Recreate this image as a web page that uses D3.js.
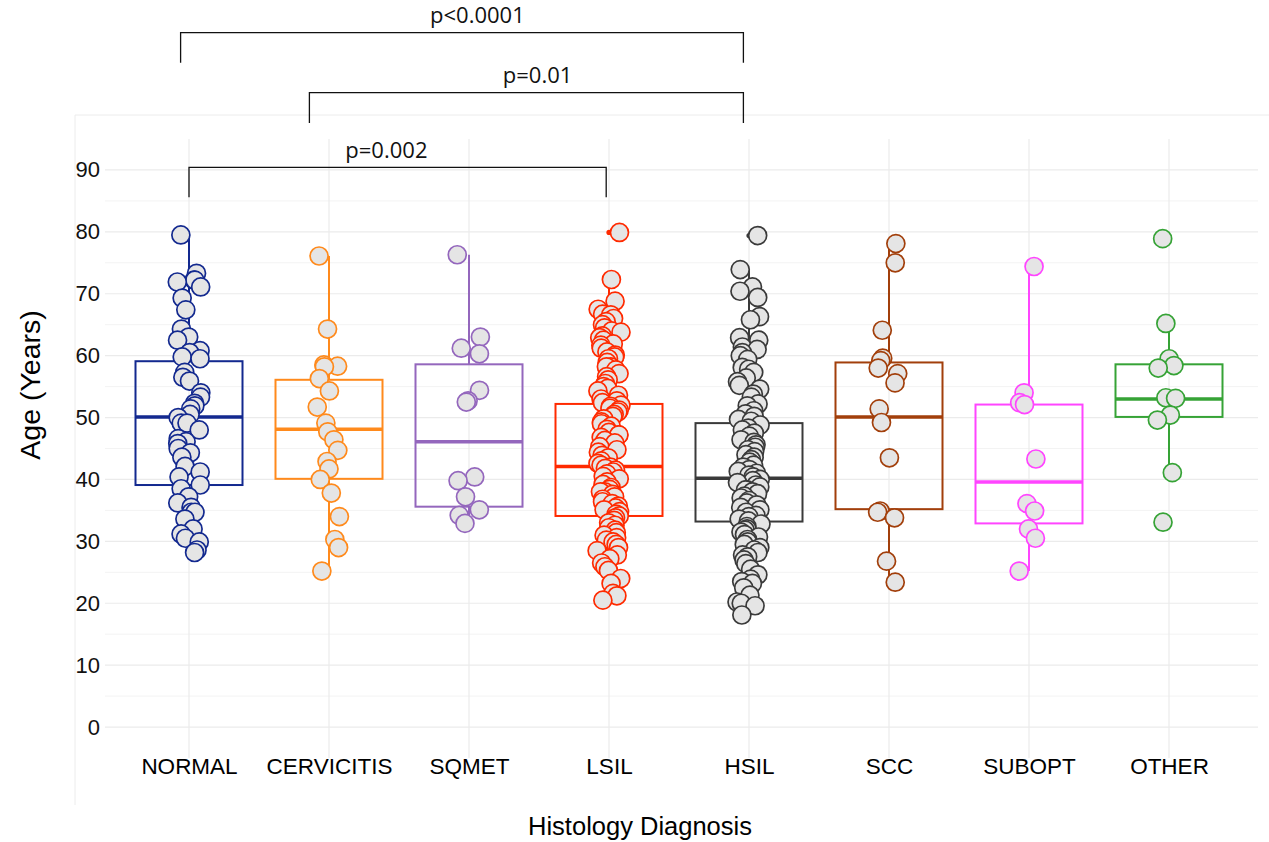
<!DOCTYPE html>
<html>
<head>
<meta charset="utf-8">
<script src="https://cdn.jsdelivr.net/npm/d3@7"></script>
<style>
  body { margin: 0; background: #fff; }
  text { font-family: "Liberation Sans", Arial, sans-serif; }
</style>
</head>
<body>
<div id="plot"></div>
<script>
// Categories and styles
const categories = ["NORMAL", "CERVICITIS", "SQMET", "LSIL", "HSIL", "SCC", "SUBOPT", "OTHER"];
const colors = ["#13298f", "#ff8a1c", "#9467bd", "#ff2a00", "#3a3a3a", "#a23f0b", "#ff45ff", "#36a336"];

// Ages, one array per diagnosis
const normalAges = [79.5, 73.3, 72.2, 72.2, 71.9, 71.1, 69.3, 67.4, 64.3, 63.0, 62.5, 60.8, 60.5, 59.8, 59.5,
  57.3, 56.5, 55.9, 54.0, 53.3, 52.3, 51.9, 51.4, 50.5, 50.0, 49.1, 49.1, 48.0, 46.6, 46.1, 45.8, 45.0, 44.3,
  43.6, 42.1, 41.2, 40.4, 39.1, 38.5, 37.2, 36.2, 35.5, 34.7, 34.7, 33.6, 32.0, 31.2, 30.5, 29.9, 28.6, 28.2];
const cervicitisAges = [76.1, 64.3, 58.5, 58.3, 58.2, 56.3, 54.3, 51.7, 49.1, 47.7, 46.4, 44.7, 42.9, 41.7,
  40.0, 37.8, 34.0, 30.3, 29.0, 25.2];
const sqmetAges = [76.3, 63.0, 61.2, 60.3, 54.4, 52.7, 52.5, 40.4, 39.8, 37.2, 35.1, 34.2, 32.9];
const lsilAges = [79.9, 72.3, 68.8, 67.5, 66.7, 66.6, 66.0, 65.5, 65.0, 64.5, 64.0, 63.8, 63.2, 62.9, 62.5,
  61.9, 61.7, 61.2, 60.6, 60.1, 59.8, 59.5, 58.9, 58.2, 58.2, 57.7, 57.1, 56.6, 56.1, 55.5, 55.0, 54.7, 54.3,
  53.6, 53.0, 52.7, 52.4, 52.0, 51.8, 51.5, 51.2, 50.9, 50.5, 50.2, 49.8, 49.3, 49.0, 48.6, 48.1, 47.6, 47.2,
  47.2, 46.8, 46.3, 45.9, 45.3, 44.8, 44.4, 43.9, 43.5, 43.0, 42.6, 42.3, 42.0, 41.8, 41.5, 41.2, 40.9, 40.5,
  40.1, 39.6, 39.2, 38.7, 38.4, 38.0, 38.0, 37.6, 37.2, 36.8, 36.4, 36.1, 35.7, 35.4, 35.1, 34.8, 34.4, 34.1,
  33.8, 33.4, 33.0, 32.6, 32.2, 31.8, 31.4, 31.0, 30.6, 30.2, 29.9, 29.5, 29.0, 28.5, 27.8, 27.2, 26.5, 25.9,
  25.3, 24.0, 23.2, 21.6, 21.2, 20.5];
const hsilAges = [79.4, 73.9, 71.1, 70.4, 69.4, 66.3, 65.8, 62.9, 62.5, 61.4, 61.0, 60.5, 60.0, 59.4, 58.1,
  57.8, 57.3, 56.4, 55.8, 55.2, 54.6, 53.8, 53.3, 52.2, 51.9, 51.1, 50.6, 50.2, 49.7, 49.4, 48.8, 48.3, 48.0,
  47.5, 47.0, 46.4, 46.0, 45.6, 45.2, 44.8, 44.5, 44.0, 43.6, 43.2, 42.8, 42.3, 42.0, 41.6, 41.3, 41.0, 40.7,
  40.4, 40.0, 39.8, 39.5, 39.1, 38.8, 38.3, 38.3, 38.0, 37.7, 37.3, 37.0, 36.6, 36.2, 35.9, 35.5, 35.1, 34.7,
  34.2, 34.0, 33.6, 33.3, 32.8, 32.4, 32.0, 31.8, 31.5, 31.1, 30.7, 30.3, 29.9, 29.5, 29.0, 28.6, 28.2, 27.8,
  27.5, 27.0, 26.4, 25.5, 24.6, 23.9, 23.5, 23.2, 22.5, 21.3, 20.2, 20.0, 19.6, 18.1];
const sccAges = [78.1, 75.0, 64.1, 59.6, 59.2, 58.0, 57.1, 55.6, 51.4, 49.2, 43.5, 34.9, 34.7, 33.8, 26.8, 23.4];
const suboptAges = [74.4, 54.0, 52.4, 52.1, 43.3, 36.1, 34.9, 32.0, 30.5, 25.2];
const otherAges = [78.9, 65.2, 59.5, 58.4, 58.0, 53.2, 53.1, 50.4, 49.6, 41.1, 33.1];
const agesByCategory = [normalAges, cervicitisAges, sqmetAges, lsilAges, hsilAges, sccAges, suboptAges, otherAges];

// Box summaries
const q1 = [39.1, 40.1, 35.6, 34.1, 33.2, 35.2, 32.9, 50.1];
const medians = [50.1, 48.1, 46.1, 42.1, 40.2, 50.1, 39.6, 53.0];
const q3 = [59.1, 56.1, 58.6, 52.2, 49.1, 58.9, 52.1, 58.6];
const whiskerLow = [28.2, 25.2, 32.9, 20.5, 18.1, 23.4, 25.2, 41.1];
const whiskerHigh = [79.5, 76.1, 76.3, 72.3, 73.9, 78.1, 74.4, 65.2];

// Axis ticks
const yMajorTicks = [0, 10, 20, 30, 40, 50, 60, 70, 80, 90];
const yMinorTicks = [5, 15, 25, 35, 45, 55, 65, 75, 85];

// Significance brackets (category index positions, ages)
const bracketLabels = ["p<0.0001", "p=0.01", "p=0.002"];
const bracketFrom = [-0.06, 0.86, 0.0];
const bracketTo = [3.96, 3.96, 2.98];
const bracketLabelAt = [2.06, 2.49, 1.41];
const bracketTop = [112.2, 102.5, 90.4];
const bracketBottom = [107.3, 97.6, 85.6];
const bracketLabelY = [113.7, 104.0, 91.9];

const width = 1269, height = 842;
const svg = d3.select("#plot").append("svg")
  .attr("width", width)
  .attr("height", height);

const x = d3.scalePoint().domain(categories).range([189, 1169]);
const xi = d3.scaleLinear().domain([0, categories.length - 1]).range([189, 1169]);
const y = d3.scaleLinear().domain([-5, 95]).range([758, 139]);
const boxW = 107;

// outer panel border
svg.append("path")
  .attr("d", `M75,805 V115 H${width}`)
  .attr("fill", "none")
  .attr("stroke", "#ececec")
  .attr("stroke-width", 1);

// gridlines
const grid = svg.append("g");
grid.selectAll(".minor").data(yMinorTicks).join("line")
  .attr("x1", 105).attr("x2", 1258)
  .attr("y1", d => y(d)).attr("y2", d => y(d))
  .attr("stroke", "#f3f3f3").attr("stroke-width", 1);
grid.selectAll(".major").data(yMajorTicks).join("line")
  .attr("x1", 105).attr("x2", 1258)
  .attr("y1", d => y(d)).attr("y2", d => y(d))
  .attr("stroke", "#ebebeb").attr("stroke-width", 1.2);
grid.selectAll(".vert").data(categories).join("line")
  .attr("x1", d => x(d)).attr("x2", d => x(d))
  .attr("y1", y(95)).attr("y2", y(-5))
  .attr("stroke", "#ebebeb").attr("stroke-width", 1.2);

// Y axis
const yAxis = svg.append("g")
  .attr("transform", "translate(100,0)")
  .call(d3.axisLeft(y).tickValues(yMajorTicks).tickSize(0).tickPadding(0));
yAxis.select(".domain").remove();
yAxis.selectAll("text")
  .attr("font-size", "22px")
  .attr("fill", "#111")
  .style("font-family", "'Liberation Sans', Arial, sans-serif");

// X axis
const xAxis = svg.append("g")
  .attr("transform", "translate(0,758)")
  .call(d3.axisBottom(x).tickSize(0).tickPadding(0));
xAxis.select(".domain").remove();
xAxis.selectAll("text")
  .attr("font-size", "22.5px")
  .attr("fill", "#000")
  .style("font-family", "'Liberation Sans', Arial, sans-serif");

// axis titles
svg.append("text")
  .attr("x", 640).attr("y", 835)
  .attr("text-anchor", "middle")
  .attr("font-size", "25.5px")
  .attr("fill", "#000")
  .text("Histology Diagnosis");
svg.append("text")
  .attr("transform", "translate(40,385) rotate(-90)")
  .attr("text-anchor", "middle")
  .attr("font-size", "28.5px")
  .attr("fill", "#000")
  .text("Age (Years)");

// boxes
const boxes = svg.append("g").selectAll("g").data(categories).join("g");
boxes.append("line")
  .attr("x1", d => x(d)).attr("x2", d => x(d))
  .attr("y1", (d, i) => y(q3[i])).attr("y2", (d, i) => y(whiskerHigh[i]))
  .attr("stroke", (d, i) => colors[i]).attr("stroke-width", 2);
boxes.append("line")
  .attr("x1", d => x(d)).attr("x2", d => x(d))
  .attr("y1", (d, i) => y(q1[i])).attr("y2", (d, i) => y(whiskerLow[i]))
  .attr("stroke", (d, i) => colors[i]).attr("stroke-width", 2);
boxes.append("rect")
  .attr("x", d => x(d) - boxW / 2)
  .attr("width", boxW)
  .attr("y", (d, i) => y(q3[i]))
  .attr("height", (d, i) => y(q1[i]) - y(q3[i]))
  .attr("fill", "none")
  .attr("stroke", (d, i) => colors[i]).attr("stroke-width", 2);
boxes.append("line")
  .attr("x1", d => x(d) - boxW / 2).attr("x2", d => x(d) + boxW / 2)
  .attr("y1", (d, i) => y(medians[i])).attr("y2", (d, i) => y(medians[i]))
  .attr("stroke", (d, i) => colors[i]).attr("stroke-width", 3.5);

// outlier marks (small dots at the box centre)
const outliers = [];
agesByCategory.forEach((ages, i) => {
  ages.forEach(v => {
    if (v > whiskerHigh[i] || v < whiskerLow[i]) outliers.push({cat: categories[i], i, v});
  });
});
svg.append("g").selectAll("circle").data(outliers).join("circle")
  .attr("cx", d => x(d.cat))
  .attr("cy", d => y(d.v))
  .attr("r", 2.6)
  .attr("fill", d => colors[d.i]);

// jittered points
const points = [];
agesByCategory.forEach((ages, i) => {
  const rng = d3.randomLcg(0.137 * (i + 1));
  ages.forEach(v => {
    points.push({cat: categories[i], i, v, dx: (rng() * 2 - 1) * 12});
  });
});
svg.append("g").selectAll("circle").data(points).join("circle")
  .attr("cx", d => x(d.cat) + d.dx)
  .attr("cy", d => y(d.v))
  .attr("r", 9)
  .attr("fill", "#e5e5e5")
  .attr("stroke", d => colors[d.i])
  .attr("stroke-width", 1.7);

// significance brackets
const br = svg.append("g").selectAll("g").data(bracketLabels).join("g");
br.append("path")
  .attr("d", (d, i) => `M${xi(bracketFrom[i])},${y(bracketBottom[i])}V${y(bracketTop[i])}H${xi(bracketTo[i])}V${y(bracketBottom[i])}`)
  .attr("fill", "none")
  .attr("stroke", "#111")
  .attr("stroke-width", 1.3);
br.append("text")
  .attr("x", (d, i) => xi(bracketLabelAt[i]))
  .attr("y", (d, i) => y(bracketLabelY[i]))
  .attr("text-anchor", "middle")
  .attr("font-size", "22px")
  .attr("fill", "#111")
  .style("font-family", "'Open Sans', 'Noto Sans', sans-serif")
  .text(d => d);
</script>
</body>
</html>
